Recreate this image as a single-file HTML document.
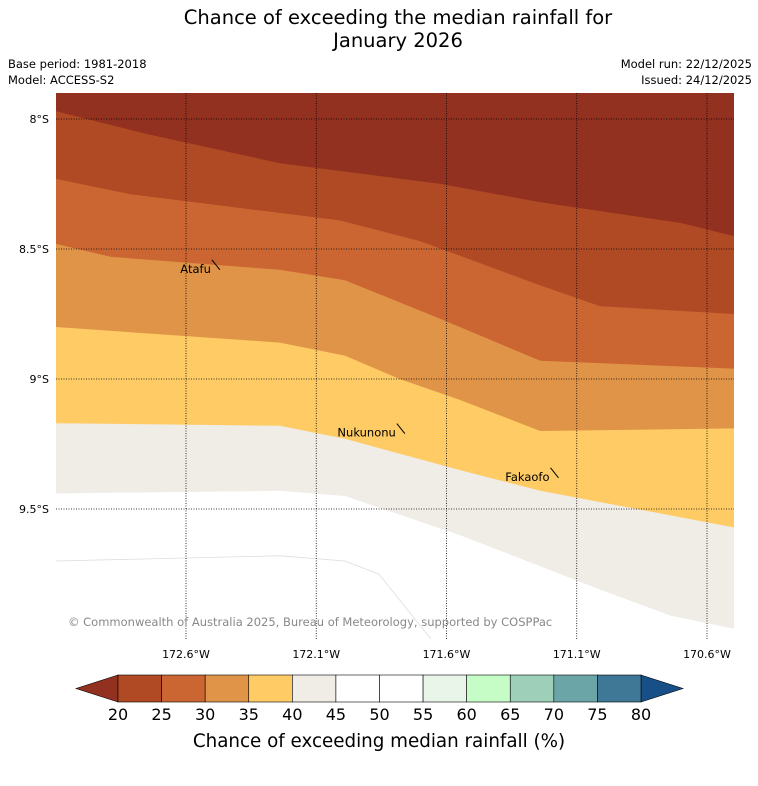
<!DOCTYPE html>
<html><head><meta charset="utf-8"><style>
body{margin:0;background:#fff;font-family:"Liberation Sans","DejaVu Sans",sans-serif}
svg text{font-family:"DejaVu Sans","Liberation Sans",sans-serif}
</style></head><body>
<svg id="c" width="758" height="781" xmlns="http://www.w3.org/2000/svg">
<text x="398" y="24" font-size="19.5" text-anchor="middle">Chance of exceeding the median rainfall for</text>
<text x="398" y="47" font-size="19.5" text-anchor="middle">January 2026</text>
<text x="8" y="68" font-size="11.5">Base period: 1981-2018</text>
<text x="8" y="84" font-size="11.5">Model: ACCESS-S2</text>
<text x="752" y="68" font-size="11.5" text-anchor="end">Model run: 22/12/2025</text>
<text x="752" y="84" font-size="11.5" text-anchor="end">Issued: 24/12/2025</text>
<defs><clipPath id="mc"><rect x="56" y="93" width="678" height="547"/></clipPath></defs>
<g id="map" clip-path="url(#mc)"></g>
<g id="over"></g>
<g id="cbar"></g>
<text x="379" y="747" font-size="18.3" text-anchor="middle">Chance of exceeding median rainfall (%)</text>
</svg>
<script>
const NS="http://www.w3.org/2000/svg";
const bandColors=["#933120","#b04a25","#cb6633","#e09448","#fecb65","#f0ece6","#ffffff"];
const boundLons=[
 [-173.10,-172.74,-172.24,-171.62,-171.24,-170.70,-170.50],
 [-173.10,-172.81,-172.01,-171.70,-171.24,-171.01,-170.50],
 [-173.10,-172.89,-172.24,-171.99,-171.62,-171.24,-170.50],
 [-173.10,-172.24,-171.99,-171.78,-171.55,-171.24,-170.50],
 [-173.10,-172.24,-171.99,-171.55,-171.24,-170.50],
 [-173.10,-172.24,-171.99,-171.55,-171.24,-171.01,-170.74,-170.50]
];
const boundLats=[
 [-7.97,-8.06,-8.17,-8.25,-8.32,-8.40,-8.45],
 [-8.23,-8.29,-8.39,-8.47,-8.64,-8.72,-8.75],
 [-8.48,-8.53,-8.58,-8.62,-8.77,-8.93,-8.96],
 [-8.80,-8.86,-8.91,-9.00,-9.08,-9.20,-9.19],
 [-9.17,-9.18,-9.23,-9.35,-9.43,-9.57],
 [-9.44,-9.43,-9.45,-9.60,-9.72,-9.81,-9.91,-9.96]
];
const faintLons=[-173.10,-172.24,-171.99,-171.86,-171.66];
const faintLats=[-9.70,-9.68,-9.70,-9.75,-10.0];
const lonTicks=[-172.6,-172.1,-171.6,-171.1,-170.6];
const lonLabels=["172.6°W","172.1°W","171.6°W","171.1°W","170.6°W"];
const latTicks=[-8,-8.5,-9,-9.5];
const latLabels=["8°S","8.5°S","9°S","9.5°S"];
const islandNames=["Atafu","Nukunonu","Fakaofo"];
const islandLons=[-172.47,-171.76,-171.17];
const islandLats=[-8.58,-9.21,-9.38];
const cbLevels=[20,25,30,35,40,45,50,55,60,65,70,75,80];
const cbColors=["#b04a25","#cb6633","#e09448","#fecb65","#f0ece6","#ffffff","#ffffff","#e8f5e8","#c6fcc6","#9ecfb8","#6ca5a7","#3e7896"];
const cbUnder="#933120", cbOver="#174f86";
const X=lon=>186+(lon+172.6)*260.5;
const Y=lat=>119+(-8-lat)*260;
const map=document.getElementById('map');
function mk(tag,at,parent){const e=document.createElementNS(NS,tag);for(const k in at)e.setAttribute(k,at[k]);parent.appendChild(e);return e;}
const bg=mk('rect',{x:50,y:90,width:700,height:560,fill:bandColors[0]},map);


boundLons.forEach((lons,i)=>{
 const lastY=Y(boundLats[i][lons.length-1]);
 let d='M40,'+Y(boundLats[i][0])+' '+lons.map((lo,j)=>'L'+X(lo)+','+Y(boundLats[i][j])).join(' ');
 d+=' L760,'+lastY+' L760,700 L40,700 Z';
 const p=mk('path',{d:d,fill:bandColors[i+1]},map);
 
 
});
const fd=faintLons.map((lo,j)=>(j?'L':'M')+X(lo)+','+Y(faintLats[j])).join(' ');
const fl=mk('path',{d:fd,fill:'none',stroke:'#ddd','stroke-width':0.8},map);


const over=document.getElementById('over');
lonTicks.forEach((t,i)=>{
 const l=mk('line',{x1:X(t),x2:X(t),y1:93,y2:640,stroke:'#000','stroke-width':0.8,'stroke-dasharray':'1,1.5'},over);
 
 
 const tx=mk('text',{x:X(t),y:658,'font-size':11,'text-anchor':'middle'},over);tx.textContent=lonLabels[i];
 
 
});
latTicks.forEach((t,i)=>{
 const l=mk('line',{x1:56,x2:734,y1:Y(t),y2:Y(t),stroke:'#000','stroke-width':0.8,'stroke-dasharray':'1,1.5'},over);
 
 
 const tx=mk('text',{x:49,y:Y(t)+4,'font-size':11,'text-anchor':'end'},over);tx.textContent=latLabels[i];
 
 
});
islandNames.forEach((n,i)=>{
 const x=X(islandLons[i]),y=Y(islandLats[i]);
 const l=mk('line',{x1:x-8,y1:y-10,x2:x,y2:y,stroke:'#000','stroke-width':1},over);
 
 
 const tx=mk('text',{x:x-9,y:y+3,'font-size':11.5,'text-anchor':'end'},over);tx.textContent=n;
 
 
});
const cr=mk('text',{x:68,y:626,'font-size':11.5,fill:'#888'},over);
cr.textContent="© Commonwealth of Australia 2025, Bureau of Meteorology, supported by COSPPac";


const cb=document.getElementById('cbar');
const cx0=118,cx1=641,cy=675,ch=27,cw=(cx1-cx0)/cbColors.length;
const u=mk('polygon',{points:`${cx0},${cy} 76,${cy+ch/2} ${cx0},${cy+ch}`,fill:cbUnder,stroke:'#000','stroke-width':0.6},cb);


const o=mk('polygon',{points:`${cx1},${cy} 683,${cy+ch/2} ${cx1},${cy+ch}`,fill:cbOver,stroke:'#000','stroke-width':0.6},cb);


cbColors.forEach((c,i)=>{
 const r=mk('rect',{x:cx0+i*cw,y:cy,width:cw,height:ch,fill:c,stroke:'#000','stroke-width':0.6},cb);
 
 
});
cbLevels.forEach((v,i)=>{
 const t=mk('text',{x:cx0+i*cw,y:720,'font-size':16,'text-anchor':'middle'},cb);t.textContent=v;
 
 
});
</script>
</body></html>
